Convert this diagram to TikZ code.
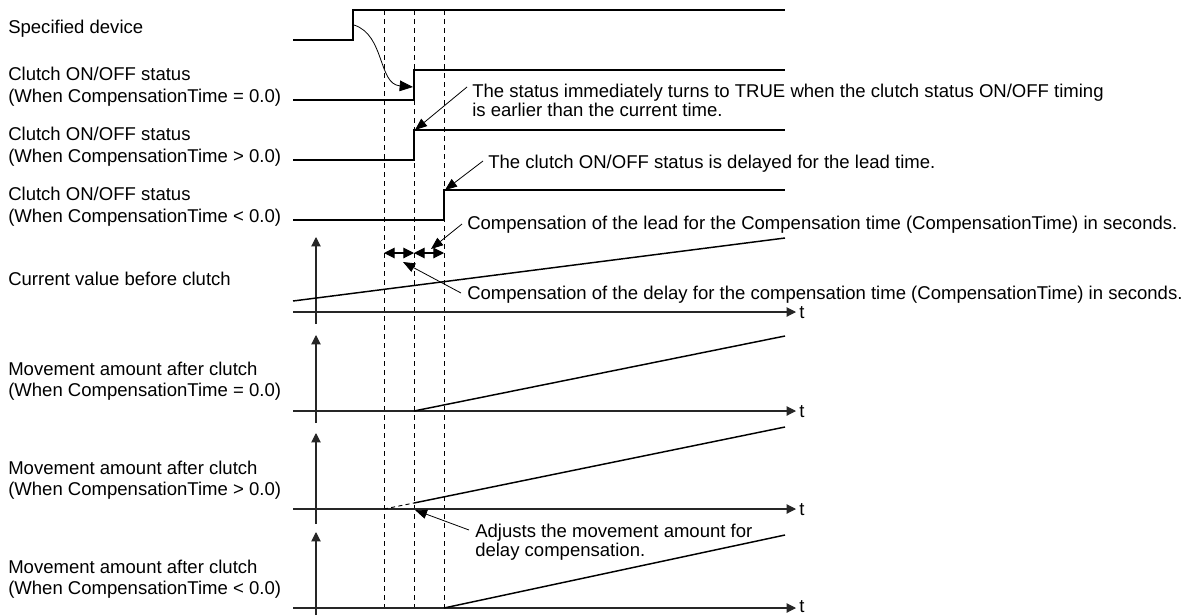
\documentclass[tikz,border=0pt]{standalone}
\usepackage{fontspec}
\setmainfont{Liberation Sans}
\usetikzlibrary{arrows.meta}
\begin{document}
\begin{tikzpicture}[x=0.75pt,y=-0.75pt,
  sig/.style={line width=1.1pt, black},
  ax/.style={line width=0.8pt, black!85},
  dsh/.style={line width=0.7pt, dash pattern=on 3.75pt off 3pt},
  axtip/.style={-{Triangle[length=7pt,width=7pt]}},
  dbl/.style={line width=0.8pt, {Triangle[length=8pt,width=8pt]}-{Triangle[length=8pt,width=8pt]}},
  lbl/.style={anchor=base west, inner sep=0pt, font=\fontsize{13.9}{17}\selectfont},
  leader/.style={line width=0.6pt, -{Triangle[length=9pt,width=7pt]}}]
\useasboundingbox (0,0) rectangle (1186,615);

% ---- left labels
\node[lbl] (l1) at (8,33) {Specified device};
\node[lbl] (l2a) at (8,80) {Clutch ON/OFF status};
\node[lbl] (l2b) at (8,102) {(When CompensationTime = 0.0)};
\node[lbl] (l3a) at (8,140) {Clutch ON/OFF status};
\node[lbl] (l3b) at (8,162) {(When CompensationTime > 0.0)};
\node[lbl] (l4a) at (8,200) {Clutch ON/OFF status};
\node[lbl] (l4b) at (8,222) {(When CompensationTime < 0.0)};
\node[lbl] (l5) at (8,285) {Current value before clutch};
\node[lbl] (l6a) at (8,375) {Movement amount after clutch};
\node[lbl] (l6b) at (8,396) {(When CompensationTime = 0.0)};
\node[lbl] (l7a) at (8,474) {Movement amount after clutch};
\node[lbl] (l7b) at (8,495) {(When CompensationTime > 0.0)};
\node[lbl] (l8a) at (8,573) {Movement amount after clutch};
\node[lbl] (l8b) at (8,594) {(When CompensationTime < 0.0)};

% ---- dashed timing lines
\foreach \xx in {384,414,444} \draw[dsh] (\xx,10) -- (\xx,608);

% ---- signals
\draw[sig] (293,40) -- (353,40) -- (353,10) -- (785,10);
\draw[sig] (293,100) -- (414,100) -- (414,70) -- (785,70);
\draw[sig] (293,160) -- (414,160) -- (414,130) -- (785,130);
\draw[sig] (293,220) -- (444,220) -- (444,190) -- (785,190);

% curved arrow from specified device to clutch status
\coordinate (cs) at (354,25);
\coordinate (ce) at (413,87);
\draw[line width=0.6pt, -{Triangle[length=10pt,width=8pt]}] (cs) .. controls (385,35) and (378,84) .. (ce);

% ---- axes
\foreach \ya/\yt/\yb in {312/237/324, 411/335/423, 509/433/524, 608/532/615}{
  \draw[ax, axtip] (316,\yb) -- (316,\yt);
  \draw[ax, axtip] (293,\ya) -- (796,\ya);
}
\node[lbl] (t1) at (799,318) {t};
\node[lbl] (t2) at (799,417) {t};
\node[lbl] (t3) at (799,515) {t};
\node[lbl] (t4) at (799,612) {t};

% ---- value lines
\draw[sig] (293,301) -- (785,238);
\draw[sig] (414,411) -- (785,336);
\draw[line width=0.7pt, dash pattern=on 3pt off 2.5pt] (384,509) -- (414,503);
\draw[sig] (414,503) -- (785,427);
\draw[sig] (444,608) -- (785,535);

% ---- compensation double arrows
\coordinate (da) at (384,253);
\coordinate (db) at (414,253);
\coordinate (dc) at (444,253);
\draw[dbl] (da) -- (db);
\draw[dbl] (db) -- (dc);

% ---- annotations
\node[lbl] (n1a) at (472,97) {The status immediately turns to TRUE when the clutch status ON/OFF timing};
\node[lbl] (n1b) at (472,116) {is earlier than the current time.};
\coordinate (n1s) at (467,87);
\coordinate (n1e) at (415,130);
\draw[leader] (n1s) -- (n1e);

\node[lbl] (n2) at (488,168) {The clutch ON/OFF status is delayed for the lead time.};
\coordinate (n2s) at (483,161);
\coordinate (n2e) at (445,190);
\draw[leader] (n2s) -- (n2e);

\node[lbl] (n3) at (467,229) {Compensation of the lead for the Compensation time (CompensationTime) in seconds.};
\coordinate (n3s) at (462,224);
\coordinate (n3e) at (431,249);
\draw[leader] (n3s) -- (n3e);

\node[lbl] (n4) at (467,299) {Compensation of the delay for the compensation time (CompensationTime) in seconds.};
\coordinate (n4s) at (461,293);
\coordinate (n4e) at (403,262);
\draw[leader] (n4s) -- (n4e);

\node[lbl] (n5a) at (475,537) {Adjusts the movement amount for};
\node[lbl] (n5b) at (475,556) {delay compensation.};
\coordinate (n5s) at (469,530);
\coordinate (n5e) at (415,510);
\draw[leader] (n5s) -- (n5e);
\end{tikzpicture}
\end{document}
